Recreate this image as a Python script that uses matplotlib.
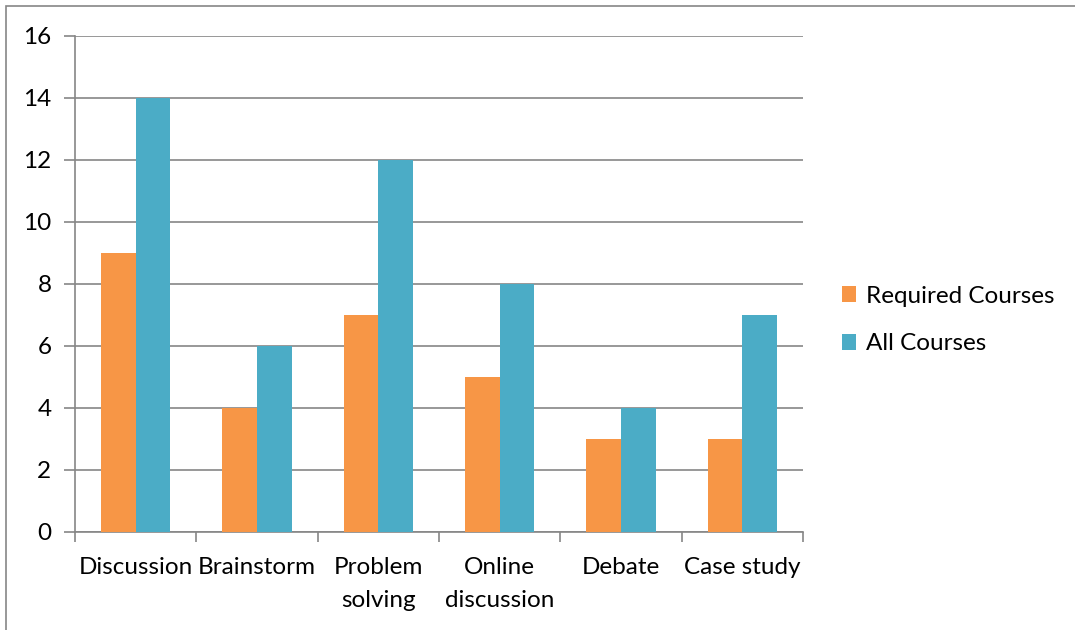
import matplotlib
matplotlib.use("Agg")
import matplotlib.pyplot as plt
import numpy as np
from matplotlib.patches import Rectangle

categories = ["Discussion", "Brainstorm", "Problem\nsolving", "Online\ndiscussion", "Debate", "Case study"]
required = [9, 4, 7, 5, 3, 3]
all_courses = [14, 6, 12, 8, 4, 7]
series_names = ["Required Courses", "All Courses"]
yticks = [0, 2, 4, 6, 8, 10, 12, 14, 16]

plt.rcParams['font.family'] = ['Lato', 'DejaVu Sans']
W, H = 1075, 630
fig = plt.figure(figsize=(W/100, H/100), dpi=100)
ax = fig.add_axes([75/W, 1-532/H, (803-75)/W, (532-36)/H])

orange = "#F79646"
blue = "#4BACC6"
grid = "#868686"
fs = 17.5

x = np.arange(len(categories))
bw = 0.285
ax.bar(x - bw/2, required, bw, color=orange, label=series_names[0], zorder=3)
ax.bar(x + bw/2, all_courses, bw, color=blue, label=series_names[1], zorder=3)

ax.set_xlim(-0.5, len(categories) - 0.5)
ax.set_ylim(0, 16)
ax.set_yticks(yticks)
ax.set_yticklabels([str(v) for v in yticks], fontsize=fs)
ax.yaxis.grid(True, color=grid, linewidth=1.2, zorder=0)
ax.tick_params(axis='y', length=8, width=1.2, color=grid, pad=9, labelcolor='black')

ax.set_xticks(x)
ax.set_xticklabels(categories, fontsize=fs, linespacing=1.7, va='top')
ax.tick_params(axis='x', length=0, pad=18)
ax.set_xticks(np.arange(len(categories) + 1) - 0.5, minor=True)
ax.tick_params(axis='x', which='minor', length=7, width=1.2, color=grid)

for s in ['top', 'right']:
    ax.spines[s].set_visible(False)
for s in ['left', 'bottom']:
    ax.spines[s].set_color(grid)
    ax.spines[s].set_linewidth(1.2)

leg = fig.legend(loc='upper left', bbox_to_anchor=(832/W, 1-276/H), frameon=False,
                 fontsize=fs, handlelength=0.6, handleheight=0.6, handletextpad=0.4,
                 labelspacing=1.1, borderaxespad=0)

fig.patches.append(Rectangle((6/W, -0.1), 1.2, 1 - 6/H + 0.1, transform=fig.transFigure,
                             fill=False, edgecolor=grid, linewidth=1.2))

fig.savefig("out.png", dpi=100)
